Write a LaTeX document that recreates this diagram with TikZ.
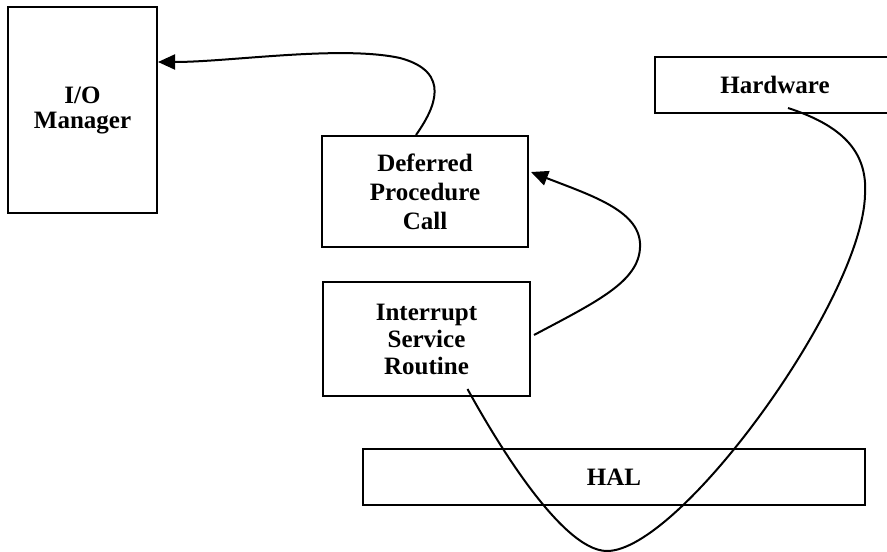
\documentclass[tikz,border=0pt]{standalone}
\usepackage{fontspec}
\setmainfont{Liberation Serif}
\usetikzlibrary{arrows.meta,calc}
\begin{document}
\begin{tikzpicture}[x=1pt,y=-1pt,
  box/.style={draw=black, line width=2pt, rectangle, inner sep=0pt, align=center,
    font=\fontsize{25}{27}\selectfont\bfseries},
  conn/.style={draw=black, line width=2pt},
  tip/.style={-{Triangle[length=17pt,width=15pt]}}]
\clip (0,0) rectangle (887,552);
\fill[white] (0,0) rectangle (887,552);
\node[box, minimum width=149pt, minimum height=206pt, font=\fontsize{25}{25}\selectfont\bfseries] (io) at (82.5,110) {I/O\\Manager};
\node[box, minimum width=206pt, minimum height=111pt, font=\fontsize{25}{29}\selectfont\bfseries] (dpc) at (425,191.5) {Deferred\\Procedure\\Call};
\node[box, minimum width=207pt, minimum height=114pt] (isr) at (426.5,339) {Interrupt\\Service\\Routine};
\node[box, minimum width=502pt, minimum height=56pt] (hal) at (614,477) {HAL};
\node[box, minimum width=240pt, minimum height=56pt] (hw) at (775,85) {Hardware};
% connector end points
\coordinate (dpcTop) at ($(dpc.north)+(-9,0)$);
\coordinate (ioTip) at ($(io.north east)+(0,56)$);
\coordinate (isrRight) at ($(isr.east)+(3,-4)$);
\coordinate (dpcTip) at ($(dpc.north east)+(2,37)$);
\coordinate (hwBottom) at ($(hw.south)+(13,-6)$);
\coordinate (isrBottom) at ($(isr.south)+(41,-8)$);
% DPC -> I/O Manager
\draw[conn, tip] (dpcTop) .. controls (435,108) and (452,72) .. (400,58)
  .. controls (340,45) and (230,62) .. (ioTip);
% ISR -> DPC
\draw[conn, tip] (isrRight) .. controls (600,300) and (642,280) .. (640,243)
  .. controls (638,210) and (590,195) .. (dpcTip);
% Hardware -> ISR
\draw[conn] (hwBottom) .. controls (840,125) and (868,150) .. (865,195)
  .. controls (862,300) and (680,551) .. (607,551)
  .. controls (560,551) and (490,430) .. (isrBottom);
\end{tikzpicture}
\end{document}
